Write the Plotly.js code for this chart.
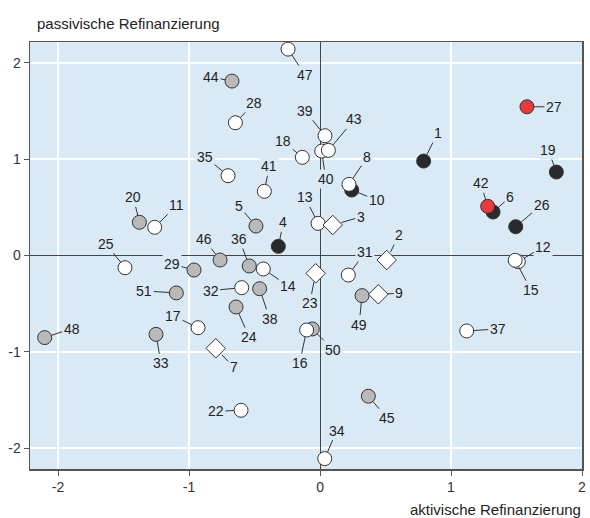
<!DOCTYPE html>
<html>
<head>
<meta charset="utf-8">
<script src="https://cdn.plot.ly/plotly-3.0.1.min.js"></script>
<style>html,body{margin:0;padding:0;background:#fff;}#chart{width:590px;height:518px;}</style>
</head>
<body>
<div id="chart"></div>
<script>
// ---- data ----
const grayIds = ["44","20","5","46","36","29","51","38","24","33","48","49","50","45"];
const grayX   = [-0.672,-1.379,-0.489,-0.763,-0.540,-0.962,-1.097,-0.461,-0.641,-1.252,-2.102,0.321,-0.059,0.369];
const grayY   = [1.812,0.345,0.306,-0.047,-0.109,-0.151,-0.389,-0.345,-0.535,-0.819,-0.853,-0.417,-0.763,-1.462];

const darkIds = ["4","10","1","19","6","26"];
const darkX   = [-0.318,0.242,0.791,1.804,1.321,1.494];
const darkY   = [0.095,0.680,0.981,0.867,0.452,0.299];

const redIds  = ["27","42"];
const redX    = [1.580,1.280];
const redY    = [1.545,0.511];

const whiteIds = ["47","28","35","41","11","18","39","40","43","8","13","12","15","37","31","16","34","22","17","25","14","32"];
const whiteX   = [-0.244,-0.646,-0.702,-0.425,-1.262,-0.135,0.038,0.013,0.064,0.221,-0.015,1.514,1.490,1.120,0.216,-0.102,0.036,-0.603,-0.931,-1.489,-0.433,-0.598];
const whiteY   = [2.144,1.379,0.829,0.667,0.293,1.020,1.244,1.085,1.092,0.739,0.334,-0.064,-0.050,-0.784,-0.203,-0.774,-2.110,-1.608,-0.750,-0.127,-0.140,-0.334];

const diamondIds = ["3","2","23","9","7"];
const diamondX   = [0.097,0.509,-0.033,0.445,-0.796];
const diamondY   = [0.317,-0.047,-0.185,-0.403,-0.964];

const tickVals = [-2,-1,0,1,2];
const tickText = ["-2","-1","0","1","2"];

const xTitle = "aktivische Refinanzierung";
const yTitle = "passivische Refinanzierung";

// ---- label placement (pixel offsets of label from its point) ----
const labelOffsets = {
  "47":[17,26],"44":[-21,-4],"28":[19,-20],"35":[-23,-19],"41":[5,-25],"20":[-6,-25],
  "11":[22,-22],"5":[-17,-20],"4":[5,-24],"18":[-19,-16],"39":[-20,-25],"40":[4,28],
  "43":[26,-31],"8":[18,-27],"10":[25,10],"13":[-13,-26],"3":[28,-8],"1":[14,-28],
  "27":[27,0],"19":[-8,-22],"42":[-7,-23],"6":[17,-15],"26":[26,-22],"12":[25,-15],
  "15":[16,30],"37":[31,-2],"2":[12,-25],"31":[17,-23],"23":[-6,30],"9":[21,-1],
  "49":[-3,29],"16":[-7,33],"50":[21,21],"45":[19,22],"34":[12,-28],"22":[-25,1],
  "7":[18,19],"17":[-25,-12],"33":[5,29],"48":[27,-9],"51":[-32,-2],"29":[-22,-6],
  "25":[-19,-24],"46":[-16,-21],"36":[-10,-27],"14":[25,17],"32":[-31,3],"38":[10,30],
  "24":[13,30]
};

const BG = "#dae9f6";
const EDGE = "#333333";
const FONT = "Liberation Sans, Arial, sans-serif";

function trace(ids, xs, ys, fill, symbol, size) {
  return {
    type: "scatter", mode: "markers", x: xs, y: ys, text: ids, hoverinfo: "text",
    marker: {symbol: symbol, size: size, color: fill, line: {color: EDGE, width: 1}},
    showlegend: false, cliponaxis: false
  };
}

const traces = [
  trace(grayIds, grayX, grayY, "#b9b9b9", "circle", 14),
  trace(darkIds, darkX, darkY, "#282b2e", "circle", 14),
  trace(redIds, redX, redY, "#e8393c", "circle", 14),
  trace(whiteIds, whiteX, whiteY, "#ffffff", "circle", 14),
  trace(diamondIds, diamondX, diamondY, "#ffffff", "diamond", 15)
];

const annotations = [];
function addLabels(ids, xs, ys, standoff) {
  ids.forEach((id, i) => {
    const off = labelOffsets[id] || [15, -15];
    annotations.push({
      x: xs[i], y: ys[i], xref: "x", yref: "y", text: id,
      showarrow: true, arrowhead: 0, arrowwidth: 1, arrowcolor: EDGE,
      ax: off[0], ay: off[1], standoff: standoff,
      font: {family: FONT, size: 14, color: "#222"},
      bgcolor: BG, borderpad: 1
    });
  });
}
addLabels(grayIds, grayX, grayY, 7);
addLabels(darkIds, darkX, darkY, 7);
addLabels(redIds, redX, redY, 7);
addLabels(whiteIds, whiteX, whiteY, 7);
addLabels(diamondIds, diamondX, diamondY, 9);

annotations.push({
  text: yTitle, xref: "paper", yref: "paper", x: 0.009, y: 1.0, yshift: 19,
  xanchor: "left", yanchor: "middle", showarrow: false,
  font: {family: FONT, size: 15, color: "#222"}
});
annotations.push({
  text: xTitle, xref: "paper", yref: "paper", x: 1.002, y: 0, yshift: -40,
  xanchor: "right", yanchor: "middle", showarrow: false,
  font: {family: FONT, size: 15, color: "#222"}
});

const axisCommon = {
  tickvals: tickVals, ticktext: tickText,
  showgrid: true, gridcolor: "#ffffff", gridwidth: 1.5,
  zeroline: true, zerolinecolor: "#444", zerolinewidth: 1,
  showline: true, linecolor: "#555", linewidth: 1.5, mirror: true,
  ticks: "outside", ticklen: 5, tickcolor: "#555", tickwidth: 1,
  tickfont: {family: FONT, size: 14, color: "#333"}
};

const layout = {
  width: 590, height: 518,
  margin: {l: 30, r: 8, t: 42, b: 49},
  paper_bgcolor: "#ffffff", plot_bgcolor: BG,
  xaxis: Object.assign({}, axisCommon, {range: [-2.214, 2.0]}),
  yaxis: Object.assign({}, axisCommon, {range: [-2.218, 2.218], ticklabelstandoff: 0}),
  annotations: annotations,
  hovermode: "closest"
};

Plotly.newPlot("chart", traces, layout, {displayModeBar: false, staticPlot: true});
</script>
</body>
</html>
